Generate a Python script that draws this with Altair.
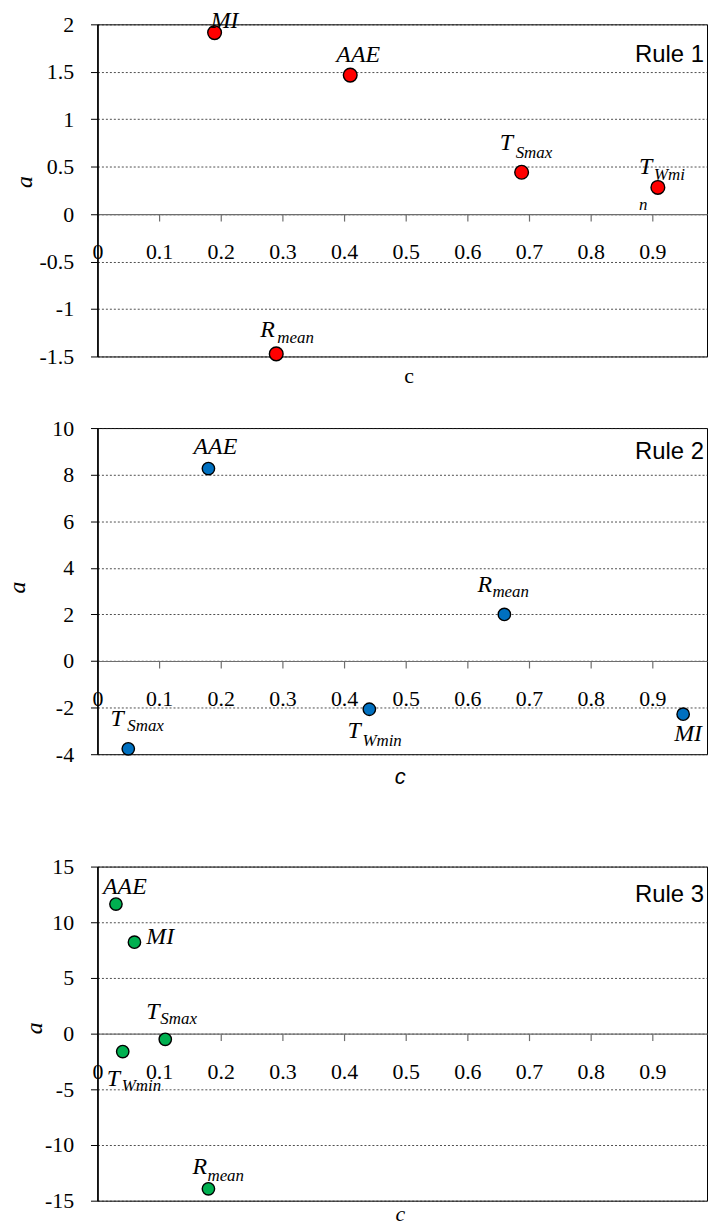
import altair as alt
import pandas as pd

SERIF = "Liberation Serif"
SANS = "Liberation Sans"

# ---------------- data ----------------
x_ticks = [0, 0.1, 0.2, 0.3, 0.4, 0.5, 0.6, 0.7, 0.8, 0.9]
x_max = 0.9887

# Rule 1
names1 = ["MI", "AAE", "T_Smax", "T_Wmin", "R_mean"]
c1 = [0.19, 0.41, 0.688, 0.909, 0.29]
a1 = [1.913, 1.465, 0.441, 0.281, -1.473]
main1 = ["MI", "AAE", "T", "T", "R"]
sub1 = ["", "", "Smax", "Wmi", "mean"]
wrap1 = ["", "", "", "n", ""]
yticks1 = [-1.5, -1, -0.5, 0, 0.5, 1, 1.5, 2]

# Rule 2
names2 = ["AAE", "R_mean", "T_Wmin", "MI", "T_Smax"]
c2 = [0.18, 0.66, 0.441, 0.95, 0.05]
a2 = [8.26, 2.0, -2.07, -2.28, -3.77]
main2 = ["AAE", "R", "T", "MI", "T"]
sub2 = ["", "mean", "Wmin", "", "Smax"]
wrap2 = ["", "", "", "", ""]
yticks2 = [-4, -2, 0, 2, 4, 6, 8, 10]

# Rule 3
names3 = ["AAE", "MI", "T_Smax", "T_Wmin", "R_mean"]
c3 = [0.030, 0.060, 0.11, 0.041, 0.18]
a3 = [11.63, 8.21, -0.51, -1.61, -13.93]
main3 = ["AAE", "MI", "T", "T", "R"]
sub3 = ["", "", "Smax", "Wmin", "mean"]
wrap3 = ["", "", "", "", ""]
yticks3 = [-15, -10, -5, 0, 5, 10, 15]

# ---------------- label styles (pixel offsets from point) ----------------
style1 = {
    "MI": dict(main=(10, -5, "center")),
    "AAE": dict(main=(8, -13, "center")),
    "T_Smax": dict(main=(-22, -22, "left"), sub=(-6, -14)),
    "T_Wmin": dict(main=(-19, -14, "left"), sub=(-4, -7), wrap=(-19, 23)),
    "R_mean": dict(main=(-16, -17, "left"), sub=(1, -11)),
}
style2 = {
    "AAE": dict(main=(7, -15, "center")),
    "R_mean": dict(main=(-27, -23, "left"), sub=(-12, -18)),
    "T_Wmin": dict(main=(-22, 29, "left"), sub=(-7, 37)),
    "MI": dict(main=(5, 27, "center")),
    "T_Smax": dict(main=(-18, -23, "left"), sub=(-1, -18)),
}
style3 = {
    "AAE": dict(main=(9, -10, "center")),
    "MI": dict(main=(12, 2, "left")),
    "T_Smax": dict(main=(-19, -20, "left"), sub=(-5, -15)),
    "T_Wmin": dict(main=(-16, 35, "left"), sub=(-1, 40)),
    "R_mean": dict(main=(-16, -15, "left"), sub=(-1, -8)),
}

PLOT_W = 613
LABEL_SIZE = 22


def panel(names, c, a, main, sub, wrap, yticks, color, size, height, style,
          rule, rule_offset, xtitle_font, xtitle_style, xtitle_pos, ytitle_pos):
    df = pd.DataFrame({"c": c, "a": a, "name": names, "main": main,
                       "sub": sub, "wrap": wrap})
    ymin, ymax = yticks[0], yticks[-1]
    zero_from_bottom = height * (0 - ymin) / (ymax - ymin)
    zero_from_top = height - zero_from_bottom

    xaxis = alt.Axis(
        values=x_ticks, labelExpr="'' + datum.value", offset=-zero_from_bottom,
        grid=False, domainColor="#6e6e6e", domainWidth=1.2, tickColor="#6e6e6e",
        tickSize=7, tickWidth=1.2, labelPadding=21, labelFont=SERIF,
        labelFontSize=LABEL_SIZE, labelColor="black", labelFlush=False,
        labelOverlap=False, title="c", titleFont=xtitle_font,
        titleFontStyle=xtitle_style, titleFontWeight="normal", titleFontSize=22,
        titleColor="black", titleX=xtitle_pos[0],
        titleY=xtitle_pos[1] - zero_from_top, titleBaseline="middle",
        titleAlign="center")
    yaxis = alt.Axis(
        values=yticks, labelExpr="'' + datum.value", grid=True,
        gridColor="#222222", gridDash=[2, 2], gridWidth=0.8,
        domainColor="black", domainWidth=1.6, tickColor="black", tickSize=7,
        tickWidth=1, labelPadding=17, labelFont=SERIF, labelFontSize=LABEL_SIZE,
        labelColor="black", title="a", titleFont=SERIF, titleFontStyle="italic",
        titleFontWeight="normal", titleFontSize=24, titleColor="black",
        titleX=ytitle_pos[0], titleY=ytitle_pos[1], titleBaseline="middle",
        titleAlign="center")

    base = alt.Chart(df).encode(
        x=alt.X("c:Q", scale=alt.Scale(domain=[0, x_max], nice=False, zero=False), axis=xaxis),
        y=alt.Y("a:Q", scale=alt.Scale(domain=[ymin, ymax], nice=False, zero=False), axis=yaxis),
    )
    layers = [base.mark_circle(size=size, color=color, opacity=1,
                               stroke="black", strokeWidth=1.4)]
    for i, n in enumerate(names):
        st = style[n]
        dx, dy, al = st["main"]
        sel = base.transform_filter(alt.datum.name == n)
        layers.append(sel.mark_text(
            align=al, baseline="alphabetic", dx=dx, dy=dy, font=SERIF,
            fontStyle="italic", fontSize=24, color="black").encode(text="main:N"))
        if sub[i]:
            sdx, sdy = st["sub"]
            layers.append(sel.mark_text(
                align="left", baseline="alphabetic", dx=sdx, dy=sdy, font=SERIF,
                fontStyle="italic", fontSize=17, color="black").encode(text="sub:N"))
        if wrap[i]:
            wdx, wdy = st["wrap"]
            layers.append(sel.mark_text(
                align="left", baseline="alphabetic", dx=wdx, dy=wdy, font=SERIF,
                fontStyle="italic", fontSize=17, color="black").encode(text="wrap:N"))

    return alt.layer(*layers).properties(
        width=PLOT_W, height=height,
        title=alt.TitleParams(rule, anchor="end", frame="group", orient="top",
                              offset=rule_offset, font=SANS, fontSize=24,
                              fontWeight="normal", color="black",
                              baseline="alphabetic", dx=-3),
    )


p1 = panel(names1, c1, a1, main1, sub1, wrap1, yticks1, "#FF0000", 190, 334,
           style1, "Rule 1", -78, SERIF, "normal", (313, 375 - 22), (-73, 158))
p2 = panel(names2, c2, a2, main2, sub2, wrap2, yticks2, "#0070C0", 155, 328,
           style2, "Rule 2", -66, SANS, "italic", (304, 778 - 428), (-80, 160))
p3 = panel(names3, c3, a3, main3, sub3, wrap3, yticks3, "#00B050", 155, 336,
           style3, "Rule 3", -71, SERIF, "italic", (304, 1215 - 866), (-63, 162))

inner = alt.vconcat(p1, p2, spacing=72, bounds="flush")
chart = alt.vconcat(inner, p3, spacing=67).properties(
    padding={"left": 5, "top": 4, "right": 0, "bottom": 0}
).configure_view(stroke="black", strokeWidth=1).configure_axis(
    labelFont=SERIF, labelFontSize=LABEL_SIZE, labelColor="black"
).configure_text(font=SERIF)

chart.save("out.html", embed_options={"renderer": "svg", "actions": False})
